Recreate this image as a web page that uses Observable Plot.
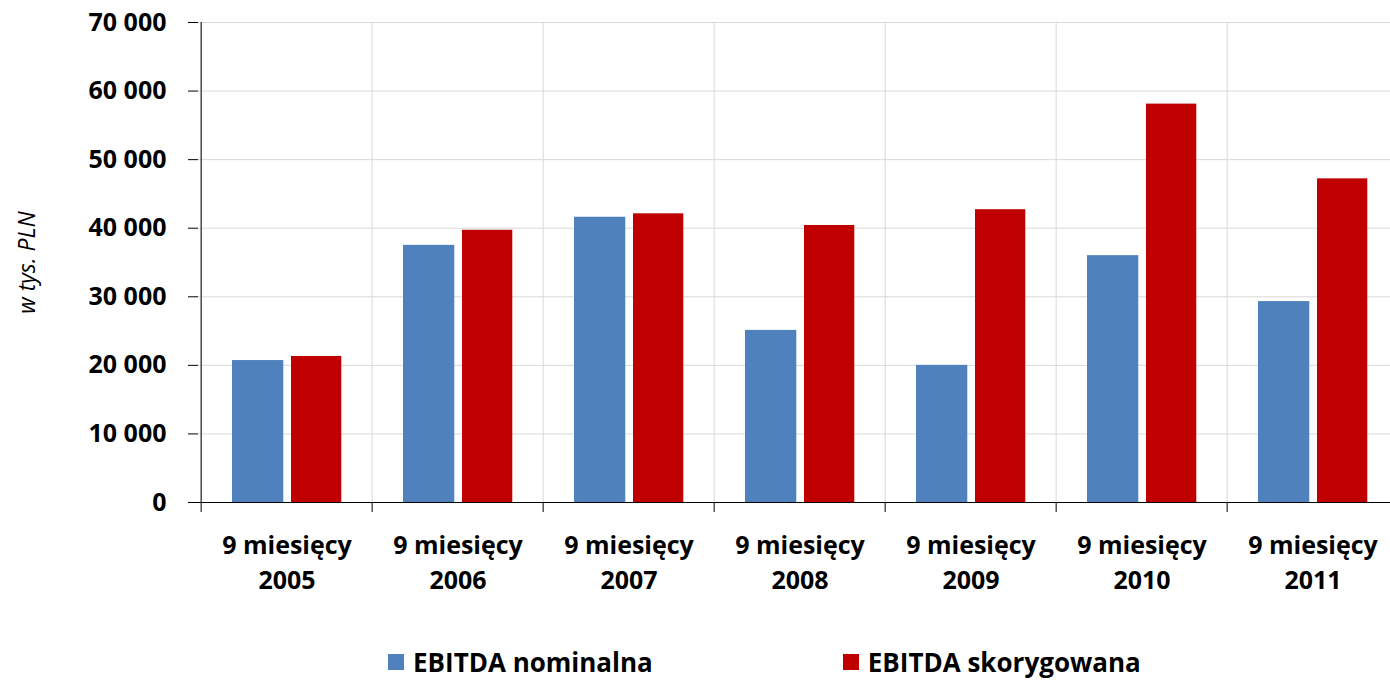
<!DOCTYPE html>
<html>
<head>
<meta charset="utf-8">
<script src="https://cdn.jsdelivr.net/npm/d3@7"></script>
<script src="https://cdn.jsdelivr.net/npm/@observablehq/plot@0.6"></script>
<style>
  html, body { margin: 0; padding: 0; background: #fff; overflow: hidden; width: 1390px; height: 680px; }
  #chart { position: absolute; left: 0; top: 0; width: 1400px; }
  #chart svg { max-width: none !important; }
  #legend { position: absolute; left: 388px; top: 647px; display: flex; align-items: center;
    font-family: "Open Sans", sans-serif; font-weight: bold; font-size: 26px; line-height: 30px; color: #000; }
  .item { display: flex; align-items: center; }
  .sw { width: 16px; height: 16px; margin-right: 9px; }
</style>
</head>
<body>
<div id="chart"></div>
<div id="legend"></div>
<script>
const categories = ["9 miesięcy\n2005", "9 miesięcy\n2006", "9 miesięcy\n2007", "9 miesięcy\n2008", "9 miesięcy\n2009", "9 miesięcy\n2010", "9 miesięcy\n2011"];
const nominalna = [20700, 37500, 41600, 25100, 20000, 36000, 29300];
const skorygowana = [21300, 39700, 42100, 40400, 42700, 58100, 47200];
const seriesNames = ["EBITDA nominalna", "EBITDA skorygowana"];
const seriesColors = ["#4F81BD", "#C00000"];
const yTicks = [0, 10000, 20000, 30000, 40000, 50000, 60000, 70000];

const W = 1400, H = 630, ML = 198, MT = 22, MB = 128;
const bw = (W - ML) / categories.length;
const fmt = d => d3.format(",")(d).replace(/,/g, " ");

const chart = Plot.plot({
  width: W, height: H,
  marginLeft: ML, marginRight: 0, marginTop: MT, marginBottom: MB,
  style: { fontFamily: "Open Sans, sans-serif", fontSize: "25px", fontWeight: "bold", color: "#000", background: "#fff" },
  x: { domain: categories, padding: 0 },
  y: { domain: [0, 70000] },
  marks: [
    Plot.gridY(yTicks, { stroke: "#d9d9d9", strokeOpacity: 1 }),
    Plot.gridX(categories, { stroke: "#d9d9d9", strokeOpacity: 1, dx: -bw / 2 }),
    Plot.barY(nominalna, { x: categories, y: d => d, fill: seriesColors[0], insetLeft: 31, insetRight: bw - 31 - 52 }),
    Plot.barY(skorygowana, { x: categories, y: d => d, fill: seriesColors[1], insetLeft: 31 + 52 + 7, insetRight: bw - 31 - 52 - 7 - 51 }),
    Plot.ruleY([0], { stroke: "#000" }),
    Plot.ruleX([categories[0]], { dx: -bw / 2, stroke: "#000" }),
    Plot.axisY(yTicks, { tickSize: 10, tickPadding: 22, tickFormat: fmt, label: null, stroke: "#000" }),
    Plot.axisY([], { label: "w tys. PLN", labelAnchor: "center", labelArrow: "none", labelOffset: 180, fontWeight: "normal", fontStyle: "italic", fontSize: 23 }),
    Plot.axisX(categories, { tickSize: 10, dx: -bw / 2, tickFormat: () => "", label: null, stroke: "#000" }),
    Plot.axisX(categories, { tickSize: 0, tickPadding: 27, label: null, lineHeight: 1.4 })
  ]
});
document.getElementById("chart").appendChild(chart);

const legend = document.getElementById("legend");
seriesNames.forEach((name, i) => {
  const item = document.createElement("div");
  item.className = "item";
  if (i > 0) item.style.marginLeft = "190px";
  const sw = document.createElement("div");
  sw.className = "sw";
  sw.style.background = seriesColors[i];
  const t = document.createElement("span");
  t.textContent = name;
  item.appendChild(sw);
  item.appendChild(t);
  legend.appendChild(item);
});
</script>
</body>
</html>
